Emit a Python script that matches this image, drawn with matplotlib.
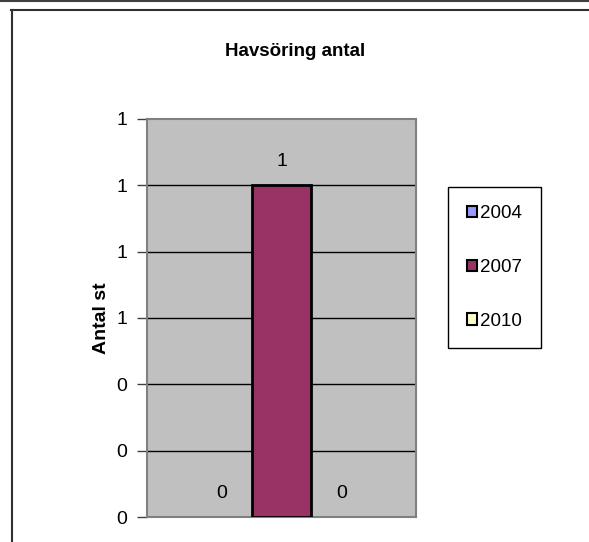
import matplotlib
matplotlib.use("Agg")
import matplotlib.pyplot as plt
from matplotlib.lines import Line2D
from matplotlib.patches import Patch
from matplotlib.ticker import FixedLocator, FuncFormatter

plt.rcParams['font.family'] = ['Liberation Sans', 'DejaVu Sans']

title = "Havsöring antal"
ylabel = "Antal st"
series = ["2004", "2007", "2010"]
values = [0, 1, 0]
colors = ["#9999FF", "#993366", "#FFFFCC"]
yticks = [0, 0.2, 0.4, 0.6, 0.8, 1.0, 1.2]

W, H = 589, 542
fig = plt.figure(figsize=(W / 100, H / 100), dpi=100)

# outer frame lines
fig.add_artist(Line2D([0, 1], [1 - 1 / H, 1 - 1 / H], color="#404040", lw=1.5))
fig.add_artist(Line2D([11 / W, 1], [1 - 9.5 / H, 1 - 9.5 / H], color="#303030", lw=1.5))
fig.add_artist(Line2D([11.5 / W, 11.5 / W], [0, 1 - 9.5 / H], color="#303030", lw=1.5))

ax = fig.add_axes([147 / W, 1 - 517 / H, (416 - 147) / W, (517 - 119) / H])
ax.set_facecolor("#C0C0C0")
for s in ax.spines.values():
    s.set_color("#808080")
    s.set_linewidth(1.5)

n = len(series)
for i, (name, v, c) in enumerate(zip(series, values, colors)):
    x = i - (n - 1) / 2
    ax.bar(x, v, width=1.0, color=c, edgecolor="black",
           linewidth=2 if v else 0, label=name, zorder=3)
    ax.annotate(f"{v:.0f}", (x, v), xytext=(0, 17), textcoords="offset points",
                ha="center", va="center", fontsize=14, zorder=4)

ax.set_xlim(-2.25, 2.25)
ax.set_ylim(0, 1.2)
ax.set_xticks([])
ax.yaxis.set_major_locator(FixedLocator(yticks))
ax.yaxis.set_major_formatter(FuncFormatter(lambda v, p: f"{v:.0f}"))
ax.tick_params(axis="y", length=7, width=1, color="#404040", labelsize=14, pad=7)
for t in yticks[1:-1]:
    ax.axhline(t, color="black", lw=1, zorder=1)

ax.set_ylabel(ylabel, fontsize=14, fontweight="bold")
ax.yaxis.set_label_coords((101 - 147) / 269, 0.5)
ax.yaxis.label.set_va("center")

fig.text(295 / W, 1 - 52 / H, title, ha="center", va="center",
         fontsize=13.5, fontweight="bold")

handles = [Patch(facecolor=c, edgecolor="black", linewidth=1.5) for c in colors]
leg = fig.legend(handles, series, loc="center",
                 bbox_to_anchor=(494.5 / W, 1 - 267.5 / H),
                 fontsize=13.5, frameon=True, fancybox=False,
                 edgecolor="black", framealpha=1, borderpad=1.0,
                 labelspacing=1.95, handlelength=0.55, handleheight=0.55,
                 handletextpad=0.15, borderaxespad=0)
leg.get_frame().set_linewidth(1)

fig.savefig("out.png", dpi=100)
